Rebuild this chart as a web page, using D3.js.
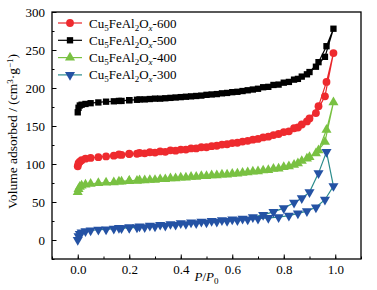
<!DOCTYPE html>
<html lang="en">
<head>
<meta charset="UTF-8">
<title>Isotherms</title>
<style>
  body { margin: 0; background: #fff; }
  svg text { font-family: "Liberation Serif", "DejaVu Serif", serif; }
  .axis path { display: none; }
  .axis line { stroke: #000; stroke-width: 1; }
  .axis text { font-size: 13px; fill: #000; }
</style>
<script src="https://d3js.org/d3.v7.min.js"></script>
</head>
<body>
<script>
// relative pressure points, adsorption then desorption
const pAds = [0, 0.003, 0.008, 0.015, 0.03, 0.05, 0.08, 0.11, 0.14, 0.17, 0.2, 0.23, 0.26, 0.3, 0.34, 0.38,
  0.42, 0.46, 0.5, 0.54, 0.58, 0.62, 0.66, 0.7, 0.74, 0.78, 0.82, 0.855, 0.89, 0.925, 0.96, 0.993];
const pDes = [0.966, 0.935, 0.9, 0.87, 0.84, 0.8, 0.76, 0.72, 0.68, 0.64, 0.6, 0.56, 0.52, 0.48, 0.44, 0.4,
  0.36, 0.32, 0.28, 0.24, 0.2, 0.16];

const ads600 = [97, 101, 103, 105, 107, 108, 109, 110, 111, 112, 113, 113.5, 114, 115, 116, 117.5,
  119, 120.5, 122, 124, 126, 128, 130.5, 133, 136, 139.5, 143, 148, 156, 167, 189, 246];
const des600 = [208, 176, 160, 152, 147, 142, 138, 135, 132, 129.5, 127.5, 125.5, 123.5, 122, 120.5, 119,
  118, 116.5, 115.5, 114.5, 113.5, 112.5];

const ads500 = [168, 174, 177, 178, 179, 180, 181, 182, 182.5, 183, 184, 184.5, 185, 186, 186.5, 187.5,
  188.5, 189.5, 191, 192, 193.5, 195, 197, 199, 201.5, 204.5, 208, 212, 218, 228, 241, 278];
const des500 = [255, 234, 221, 215, 211, 207, 204, 201, 198, 196, 194.5, 193, 191.5, 190, 189, 188,
  187, 186, 185.5, 185, 184, 183];

const ads400 = [63, 67, 70, 71.5, 73, 74, 75, 75.5, 76, 77, 77.5, 78, 78.5, 79, 80, 81,
  82, 83, 84, 85, 86, 87.5, 89, 90.5, 92, 94, 97, 101, 107, 114, 129, 181];
const des400 = [145, 118, 109, 104, 99, 96, 93.5, 91.5, 90, 88.5, 87, 86, 85, 84, 83, 82,
  81, 80, 79, 78.5, 78, 77];

const ads300 = [0, 5, 8, 10, 11.5, 12.5, 13.5, 14, 15, 15.5, 16, 16.5, 17, 18, 19, 20,
  21, 22, 23, 24, 25, 26, 27, 28, 29, 30, 32, 35, 38, 43, 53, 71];
const des300 = [116, 88, 63, 55, 49, 42, 37, 33, 30, 28, 27, 26, 25, 24, 23, 22,
  21, 20, 19, 18, 17, 16];

const xTicks = [0, 0.2, 0.4, 0.6, 0.8, 1.0];
const yTicks = [0, 50, 100, 150, 200, 250, 300];

const series = [
  { temp: "600", ads: ads600, des: des600, line: "#e8262b", fill: "#ee2a2e", shape: "circle" },
  { temp: "500", ads: ads500, des: des500, line: "#000000", fill: "#000000", shape: "square" },
  { temp: "400", ads: ads400, des: des400, line: "#79c142", fill: "#79c142", shape: "up" },
  { temp: "300", ads: ads300, des: des300, line: "#2a8c8c", fill: "#2452a4", shape: "down" }
];

const W = 377, H = 290;
const margin = { top: 12, right: 16, bottom: 31, left: 52 };
const iw = W - margin.left - margin.right;
const ih = H - margin.top - margin.bottom;

const svg = d3.select("body").append("svg")
  .attr("width", W).attr("height", H);
const g = svg.append("g").attr("transform", `translate(${margin.left},${margin.top})`);

const x = d3.scaleLinear().domain([-0.1, 1.1]).range([0, iw]);
const y = d3.scaleLinear().domain([-25, 300]).range([ih, 0]);

// minor ticks
g.append("g").attr("class", "axis")
  .attr("transform", `translate(0,${ih})`)
  .call(d3.axisBottom(x).tickValues(d3.range(-0.1, 1.101, 0.1)).tickSize(-2.5).tickFormat(""));
g.append("g").attr("class", "axis")
  .call(d3.axisLeft(y).tickValues(d3.range(-25, 301, 25)).tickSize(-2.5).tickFormat(""));

// major ticks
g.append("g").attr("class", "axis")
  .attr("transform", `translate(0,${ih})`)
  .call(d3.axisBottom(x).tickValues(xTicks).tickSize(-4.5).tickPadding(6).tickFormat(d3.format(".1f")));
g.append("g").attr("class", "axis")
  .call(d3.axisLeft(y).tickValues(yTicks).tickSize(-4.5).tickPadding(7));

g.append("rect").attr("width", iw).attr("height", ih)
  .attr("fill", "none").attr("stroke", "#000").attr("stroke-width", 1.3);

const symbolFor = {
  circle: d3.symbol().type(d3.symbolCircle).size(48),
  square: d3.symbol().type(d3.symbolSquare).size(40),
  up: d3.symbol().type(d3.symbolTriangle).size(44),
  down: d3.symbol().type(d3.symbolTriangle).size(44)
};

function marker(sel, s) {
  sel.append("path")
    .attr("d", symbolFor[s.shape]())
    .attr("fill", s.fill)
    .attr("transform", s.shape === "down" ? "rotate(180)" : null);
}

const line = d3.line().x(d => x(d[0])).y(d => y(d[1]));

series.forEach(s => {
  const pts = pAds.map((p, i) => [p, s.ads[i]]).concat(pDes.map((p, i) => [p, s.des[i]]));
  g.append("path").datum(pts)
    .attr("d", line).attr("fill", "none")
    .attr("stroke", s.line).attr("stroke-width", 1.2);
  g.selectAll(null).data(pts).enter().append("g")
    .attr("transform", d => `translate(${x(d[0])},${y(d[1])})`)
    .each(function () { marker(d3.select(this), s); });
});

// legend
const lg = g.append("g").attr("transform", "translate(6,11)");
series.forEach((s, i) => {
  const row = lg.append("g").attr("transform", `translate(0,${i * 17.3})`);
  row.append("line").attr("x1", 0).attr("x2", 24).attr("stroke", s.line).attr("stroke-width", 1.2);
  const m = row.append("g").attr("transform", "translate(12,0)");
  marker(m, s);
  const t = row.append("text").attr("x", 31).attr("y", 4.5).attr("font-size", 13);
  t.append("tspan").text("Cu");
  t.append("tspan").attr("dy", 3).attr("font-size", 9).text("5");
  t.append("tspan").attr("dy", -3).text("FeAl");
  t.append("tspan").attr("dy", 3).attr("font-size", 9).text("2");
  t.append("tspan").attr("dy", -3).text("O");
  t.append("tspan").attr("dy", 3).attr("font-size", 9).attr("font-style", "italic").text("x");
  t.append("tspan").attr("dy", -3).text("-" + s.temp);
});

// axis titles
const xl = svg.append("text")
  .attr("x", margin.left + x(0.5)).attr("y", 281)
  .attr("text-anchor", "middle").attr("font-size", 13);
xl.append("tspan").attr("font-style", "italic").text("P");
xl.append("tspan").text("/");
xl.append("tspan").attr("font-style", "italic").text("P");
xl.append("tspan").attr("dy", 3).attr("font-size", 9).text("0");

const yl = svg.append("text")
  .attr("transform", `translate(17,${margin.top + ih / 2 - 4}) rotate(-90)`)
  .attr("text-anchor", "middle").attr("font-size", 13.5);
yl.append("tspan").text("Volume adsorbed / (cm");
yl.append("tspan").attr("dy", -4).attr("font-size", 9).text("3");
yl.append("tspan").attr("dy", 4).text("·g");
yl.append("tspan").attr("dy", -4).attr("font-size", 9).text("−1");
yl.append("tspan").attr("dy", 4).text(")");
</script>
</body>
</html>
